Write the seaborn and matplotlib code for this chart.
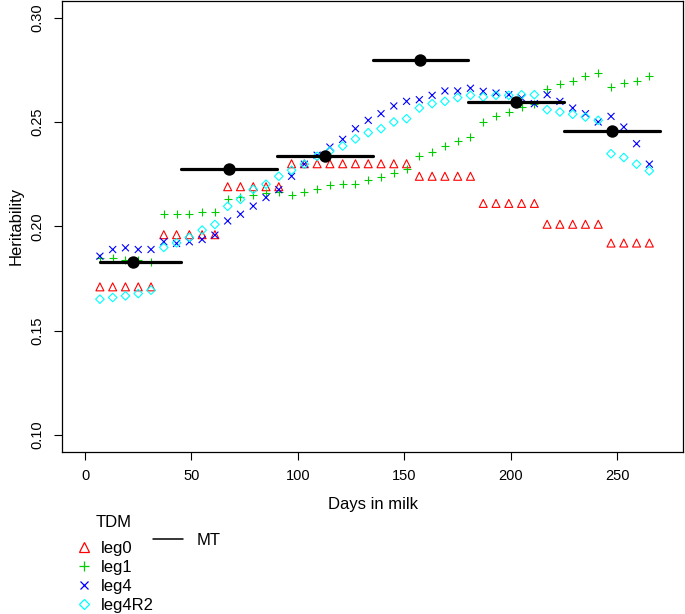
import matplotlib
matplotlib.use('Agg')
import pandas as pd
import matplotlib.pyplot as plt
import seaborn as sns
from matplotlib.lines import Line2D
from matplotlib.markers import MarkerStyle

# test-day points (days in milk)
days = [7, 13, 19, 25, 31, 37, 43, 49, 55, 61, 67, 73, 79, 85, 91,
        97, 103, 109, 115, 121, 127, 133, 139, 145, 151, 157, 163, 169, 175, 181,
        187, 193, 199, 205, 211, 217, 223, 229, 235, 241, 247, 253, 259, 265]

leg0 = [0.171, 0.171, 0.171, 0.171, 0.171,
        0.196, 0.196, 0.196, 0.196, 0.196,
        0.219, 0.219, 0.219, 0.219, 0.219,
        0.230, 0.230, 0.230, 0.230, 0.230, 0.230, 0.230, 0.230, 0.230, 0.230,
        0.224, 0.224, 0.224, 0.224, 0.224,
        0.211, 0.211, 0.211, 0.211, 0.211,
        0.201, 0.201, 0.201, 0.201, 0.201,
        0.192, 0.192, 0.192, 0.192]

leg1 = [0.185, 0.185, 0.184, 0.184, 0.183,
        0.206, 0.206, 0.206, 0.207, 0.207,
        0.213, 0.214, 0.215, 0.216, 0.2165,
        0.215, 0.2165, 0.218, 0.2197, 0.2205, 0.2205, 0.222, 0.2237, 0.2256, 0.2277,
        0.2337, 0.2356, 0.2385, 0.2409, 0.2428,
        0.250, 0.2527, 0.2548, 0.2572, 0.2585,
        0.266, 0.268, 0.2696, 0.2719, 0.2737,
        0.2668, 0.2689, 0.2696, 0.2719]

leg4 = [0.1857, 0.1889, 0.1897, 0.1889, 0.1889,
        0.1926, 0.1918, 0.1926, 0.1937, 0.1958,
        0.2026, 0.2058, 0.2097, 0.2138, 0.2176,
        0.224, 0.2298, 0.2341, 0.238, 0.2417, 0.2468, 0.2508, 0.254, 0.2577, 0.2599,
        0.2607, 0.2628, 0.2649, 0.2649, 0.2662,
        0.2647, 0.2639, 0.2631, 0.2615, 0.2588,
        0.2631, 0.2599, 0.2567, 0.254, 0.250,
        0.2527, 0.2476, 0.2396, 0.2298]

leg4r2 = [0.1651, 0.1659, 0.1667, 0.1678, 0.1694,
          0.1899, 0.1921, 0.1947, 0.1982, 0.2009,
          0.2096, 0.2129, 0.2177, 0.2202, 0.224,
          0.2269, 0.2298, 0.2336, 0.2361, 0.2385, 0.2419, 0.2449, 0.2468, 0.250, 0.2516,
          0.2567, 0.2588, 0.2599, 0.2617, 0.2628,
          0.262, 0.2628, 0.2628, 0.2631, 0.2631,
          0.2559, 0.2548, 0.2537, 0.2524, 0.2508,
          0.2348, 0.233, 0.2298, 0.2266]

tdm_names = ['leg0', 'leg1', 'leg4', 'leg4R2']

# multi-trait estimates per lactation period
mt_start = [7, 45, 90, 135, 180, 225]
mt_end = [45, 90, 135, 180, 225, 270]
mt_mid = [22.5, 67.5, 112.5, 157.5, 202.5, 247.5]
mt_h = [0.183, 0.2277, 0.2336, 0.2797, 0.2594, 0.2456]

x_ticks = [0, 50, 100, 150, 200, 250]
y_ticks = [0.10, 0.15, 0.20, 0.25, 0.30]

sns.set_style('ticks', {'axes.edgecolor': 'black', 'xtick.color': 'black',
                        'ytick.color': 'black', 'text.color': 'black',
                        'axes.labelcolor': 'black'})
plt.rcParams['font.family'] = ['Liberation Sans', 'DejaVu Sans']

tdm = pd.DataFrame({
    'dim': days * 4,
    'h': leg0 + leg1 + leg4 + leg4r2,
    'model': [n for n in tdm_names for _ in days],
})
mt_lines = pd.DataFrame({
    'dim': mt_start + mt_end,
    'h': mt_h + mt_h,
    'seg': list(range(len(mt_h))) * 2,
})

styles = {
    'leg0': ('^', '#FF0000', 33),
    'leg1': ('+', '#00CD00', 33),
    'leg4': ('x', '#0000FF', 25),
    'leg4R2': ('D', '#00FFFF', 19),
}

fig = plt.figure(figsize=(6.85, 6.14), dpi=100)
ax = fig.add_axes([62 / 685, 162.3 / 614, 621 / 685, 450.7 / 614])

for name, grp in tdm.groupby('model', sort=False):
    m, c, s = styles[name]
    sns.scatterplot(data=grp, x='dim', y='h', marker=MarkerStyle(m, fillstyle='none'),
                    color=c, s=s, linewidth=0.8, edgecolor=None, ax=ax, legend=False)

sns.lineplot(data=mt_lines, x='dim', y='h', units='seg', estimator=None,
             color='black', lw=2.3, ax=ax, legend=False)
sns.scatterplot(x=mt_mid, y=mt_h, color='black', s=80, linewidth=0,
                zorder=3, ax=ax, legend=False)

ax.set_xlim(-10.8, 280.8)
ax.set_ylim(0.092, 0.308)
ax.set_xticks(x_ticks)
ax.set_xticklabels([str(t) for t in x_ticks])
ax.set_yticks(y_ticks)
ax.set_yticklabels([f'{t:.2f}' for t in y_ticks], rotation=90, va='center')
ax.tick_params(direction='out', length=5.5, width=0.8, labelsize=10.5, pad=7)
for sp in ax.spines.values():
    sp.set_linewidth(0.9)

ax.set_xlabel('Days in milk', fontsize=12)
ax.xaxis.label.set_va('center')
ax.xaxis.set_label_coords(0.5, (451.7 - 505) / 450.7)
ax.set_ylabel('Heritability', fontsize=12)
ax.yaxis.label.set_va('center')
ax.yaxis.set_label_coords((16 - 62) / 621, 0.5)

# legends below the plot
fig.text(113.5 / 685, 1 - 522.7 / 614, 'TDM', ha='center', va='center', fontsize=12)
tdm_handles = [Line2D([], [], linestyle='', marker=MarkerStyle(styles[n][0], fillstyle='none'),
                      color=styles[n][1], markersize=ms, markeredgewidth=0.9)
               for n, ms in zip(tdm_names, [7.5, 7.8, 6.0, 5.2])]
fig.legend(tdm_handles, tdm_names, loc='upper left',
           bbox_to_anchor=(76.0 / 685, 1 - 540.7 / 614), frameon=False,
           fontsize=12, borderpad=0, borderaxespad=0,
           handlelength=1.0, handletextpad=0.47, labelspacing=0.25)
fig.legend([Line2D([], [], color='black', lw=1.1)], ['MT'], loc='center left',
           bbox_to_anchor=(153 / 685, 1 - 540.5 / 614), frameon=False,
           fontsize=12, borderpad=0, borderaxespad=0,
           handlelength=1.78, handletextpad=0.86)

plt.savefig('out.png', dpi=100)
plt.close()
